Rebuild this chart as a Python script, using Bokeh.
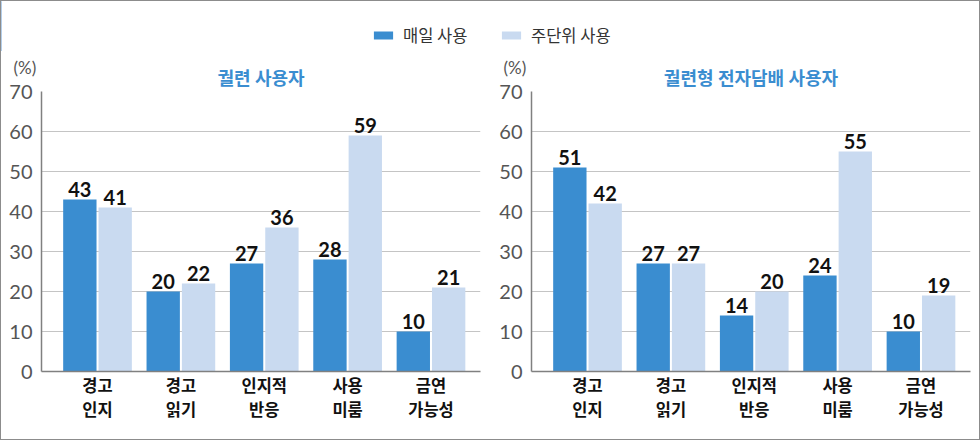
from bokeh.plotting import figure
from bokeh.layouts import row, column
from bokeh.models import ColumnDataSource, Legend, LegendItem, FixedTicker, Title
from bokeh.transform import dodge
from bokeh.core.properties import value
from bokeh.embed import file_html
from bokeh.resources import INLINE

categories = ["경고\n인지", "경고\n읽기", "인지적\n반응", "사용\n미룸", "금연\n가능성"]
series_names = ["매일 사용", "주단위 사용"]
titles = ["궐련 사용자", "궐련형 전자담배 사용자"]
cig_daily = [43, 20, 27, 28, 10]
cig_weekly = [41, 22, 36, 59, 21]
hnb_daily = [51, 27, 14, 24, 10]
hnb_weekly = [42, 27, 20, 55, 19]
y_ticks = [0, 10, 20, 30, 40, 50, 60, 70]
unit_label = "(%)"

DARK = "#3a8dd0"
LIGHT = "#c9daf0"
KR = "Noto Sans CJK KR"
KR_TIGHT = "Lato, 'Noto Sans CJK KR'"
NUM = "Lato"

X0, X1 = -0.672, 4.594
OFF = 0.212
BW = 0.40


def make_panel(title, daily, weekly, left, right):
    p = figure(frame_width=439, frame_height=280, x_range=(X0, X1), y_range=(0, 70),
               output_backend="svg", toolbar_location=None,
               min_border_left=left, min_border_right=right,
               min_border_top=40, min_border_bottom=68)
    p.title.text = ""

    xs = list(range(len(categories)))
    src = ColumnDataSource(dict(x=xs, daily=daily, weekly=weekly,
                                dl=[str(v) for v in daily], wl=[str(v) for v in weekly]))
    p.vbar(x=dodge("x", -OFF), top="daily", width=BW, source=src,
           fill_color=DARK, line_color=None)
    p.vbar(x=dodge("x", OFF), top="weekly", width=BW, source=src,
           fill_color=LIGHT, line_color=None)
    for col, lab, off in (("daily", "dl", -OFF), ("weekly", "wl", OFF)):
        p.text(x=dodge("x", off), y=col, text=lab, source=src,
               text_align="center", text_baseline="bottom", y_offset=-3,
               text_font=value(NUM), text_font_style="bold",
               text_font_size="20px", text_color="#111111")

    # chart title, nearest the frame
    p.add_layout(Title(text=title, align="center", standoff=6, vertical_align="bottom",
                       text_font=KR_TIGHT, text_font_style="bold",
                       text_font_size="18px", text_color=DARK), "above")
    # unit label, above-left
    p.add_layout(Title(text=unit_label, align="left", offset=-28, standoff=-32,
                       vertical_align="bottom", text_font=NUM,
                       text_font_style="normal", text_font_size="17px",
                       text_color="#555555"), "above")

    p.outline_line_color = None
    p.background_fill_color = "white"
    p.border_fill_color = "white"
    p.xgrid.grid_line_color = None
    p.ygrid.grid_line_color = "#c4c4c4"
    p.ygrid.grid_line_width = 1

    p.yaxis.ticker = FixedTicker(ticks=y_ticks)
    p.yaxis.major_tick_line_color = None
    p.yaxis.minor_tick_line_color = None
    p.yaxis.axis_line_color = "#808080"
    p.yaxis.axis_line_width = 1.5
    p.yaxis.major_label_text_font = NUM
    p.yaxis.major_label_text_font_size = "20px"
    p.yaxis.major_label_text_color = "#555555"
    p.yaxis.major_label_standoff = 3

    p.xaxis.ticker = FixedTicker(ticks=xs)
    p.xaxis.major_label_overrides = {i: c for i, c in enumerate(categories)}
    p.xaxis.major_tick_line_color = None
    p.xaxis.minor_tick_line_color = None
    p.xaxis.axis_line_color = "#808080"
    p.xaxis.axis_line_width = 1.5
    p.xaxis.major_label_text_font = KR_TIGHT
    p.xaxis.major_label_text_font_style = "bold"
    p.xaxis.major_label_text_font_size = "16.5px"
    p.xaxis.major_label_text_color = "#111111"
    p.xaxis.major_label_standoff = -2
    return p


p1 = make_panel(titles[0], cig_daily, cig_weekly, 40, 10)
p2 = make_panel(titles[1], hnb_daily, hnb_weekly, 41, 9)

# legend strip across the top
lf = figure(width=978, height=50, x_range=(100, 101), y_range=(0, 1),
            output_backend="svg", toolbar_location=None,
            x_axis_location=None, y_axis_location=None, min_border=0)
lf.title.text = ""
lf.grid.grid_line_color = None
lf.outline_line_color = None
lsrc = ColumnDataSource(dict(x=list(range(len(categories))), daily=cig_daily, weekly=cig_weekly))
sw = [lf.vbar(x="x", top=col, width=BW, source=lsrc, fill_color=c, line_color=None)
      for col, c in (("daily", DARK), ("weekly", LIGHT))]
for name, r, lx in zip(series_names, sw, (370, 498)):
    lf.add_layout(Legend(items=[LegendItem(label=name, renderers=[r])],
                         location=(lx, 4), orientation="horizontal",
                         padding=0, margin=0, spacing=0, label_height=20,
                         glyph_width=24, glyph_height=10, label_standoff=8,
                         label_text_font=KR, label_text_font_size="16.5px",
                         label_text_color="#333333",
                         border_line_color=None, background_fill_alpha=0), "center")

layout = column(lf, row(p1, p2, spacing=0), spacing=0,
                styles={"border": "1px solid #8c8c8c"})
open("out.html", "w").write(file_html(layout, INLINE))
